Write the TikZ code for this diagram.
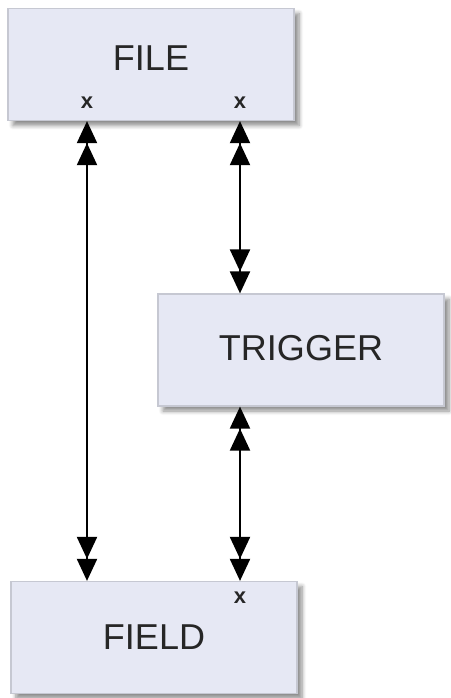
\documentclass[tikz,border=0pt]{standalone}
\usepackage{fontspec}
\setmainfont{Liberation Sans}
\usepackage{xcolor}
\usetikzlibrary{arrows.meta, positioning, shadows.blur}

\definecolor{boxfill}{HTML}{E6E8F4}
\definecolor{boxline}{HTML}{C6C8D2}

\begin{document}
\begin{tikzpicture}[
        x=0.5pt, y=-0.5pt,
        % Styles des blocs
        block/.style = {
            rectangle,
            draw=boxline,
            line width=0.6pt,
            fill=boxfill,
            text=black!85,
            minimum width=143pt,
            minimum height=56pt,
            inner sep=0pt,
            font=\fontsize{18}{22}\selectfont,
            blur shadow={shadow xshift=2.5pt, shadow yshift=-2.5pt, shadow blur steps=6, shadow opacity=45}
        },
        % Petites marques x
        mark x/.style = {font=\bfseries\fontsize{11}{12}\selectfont, inner sep=0pt, text=black!85},
        % Style des flèches (double pointe aux deux bouts)
        arrow/.style = {
            {Triangle[length=11pt,width=10pt]Triangle[length=11pt,width=10pt]}-{Triangle[length=11pt,width=10pt]Triangle[length=11pt,width=10pt]},
            line width=1pt,
            draw=black
        }
    ]
        \useasboundingbox (0,0) rectangle (451,698);

        % 1. Placement des blocs
        \node (file)    [block] at (151,64.5)  {\raisebox{6pt}{FILE}};
        \node (trigger) [block] at (301,350)   {\raisebox{2pt}{TRIGGER}};
        \node (field)   [block] at (154,637.5) {FIELD};

        % 2. Marques x
        \node (filexl)  [mark x] at (87,103)  {x};
        \node (filexr)  [mark x] at (240,103) {x};
        \node (fieldx)  [mark x] at (240,598) {x};

        % 3. Flèches
        \draw [arrow] (filexl |- file.south) -- (filexl |- field.north);
        \draw [arrow] (filexr |- file.south) -- (filexr |- trigger.north);
        \draw [arrow] (fieldx |- trigger.south) -- (fieldx |- field.north);

\end{tikzpicture}
\end{document}
